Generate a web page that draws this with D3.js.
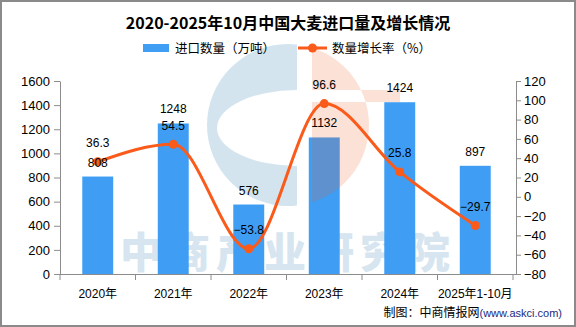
<!DOCTYPE html>
<html><head><meta charset="utf-8">
<script src="https://cdn.jsdelivr.net/npm/d3@7/dist/d3.min.js"></script>
<style>
html,body{margin:0;padding:0;background:#fff;}
svg{display:block;}
text{font-family:"Liberation Sans","Noto Sans CJK SC",sans-serif;}
</style></head>
<body>
<svg id="chart" width="576" height="327"></svg>
<script>
const title = "2020-2025年10月中国大麦进口量及增长情况";
const categories = ["2020年","2021年","2022年","2023年","2024年","2025年1-10月"];
const importVolume = [808,1248,576,1132,1424,897];
const growthRate = [36.3,54.5,-53.8,96.6,25.8,-29.7];
const leftTicks = [0,200,400,600,800,1000,1200,1400,1600];
const rightTicks = [-80,-60,-40,-20,0,20,40,60,80,100,120];
const legendLabels = ["进口数量（万吨）","数量增长率（%）"];
const watermarkText = "中商产业研究院";
const sourceText = "制图：中商情报网";
const sourceUrl = "(www.askci.com)";

const W = 576, H = 327;
const barColor = "#3f9ef4", lineColor = "#fa5a1a", axisColor = "#8c8c8c";
const CJK = '"Noto Sans CJK SC",sans-serif';

const svg = d3.select("#chart");
svg.append("rect").attr("x",1).attr("y",1).attr("width",W-2).attr("height",H-2)
  .attr("fill","#fff").attr("stroke","#8a8a8a").attr("stroke-width",2);

const plotL = 60, plotR = 513, plotT = 81, plotB = 274, rightAxisX = 516;
const x = d3.scaleBand().domain(categories).range([plotL, plotR]).paddingInner(0.59).paddingOuter(0.295);
const xb = d3.scaleBand().domain(categories).range([plotL, plotR]);
const yL = d3.scaleLinear().domain([0,1600]).range([plotB, plotT]);
const yR = d3.scaleLinear().domain([-80,120]).range([plotB, plotT]);

// watermark (behind)
const wm = svg.append("g");
const cx = 288, cy = 125, r = 81;
svg.append("defs").html(
  `<clipPath id="cl"><rect x="0" y="0" width="297" height="${H}"/></clipPath>
   <clipPath id="cr"><path d="M312,0H${W}V${H}H312Z"/></clipPath>`);
wm.append("path")
  .attr("d", `M${cx-r},${cy}a${r},${r} 0 1,0 ${2*r},0a${r},${r} 0 1,0 ${-2*r},0Z M217,128a80,38 0 1,0 160,0a80,38 0 1,0 -160,0Z`)
  .attr("fill-rule","evenodd").attr("fill","#d4e4ee").attr("clip-path","url(#cl)");
wm.append("text").attr("x",288).attr("y",268).attr("text-anchor","middle")
  .style("font-family",CJK).style("font-weight",900).style("font-size","42px")
  .attr("letter-spacing","6px").attr("fill","#d6e5ef").text(watermarkText);

// bars
svg.append("g").selectAll("rect").data(importVolume).join("rect")
  .attr("x",(d,i)=>x(categories[i])).attr("width",x.bandwidth())
  .attr("y",d=>yL(d)).attr("height",d=>yL(0)-yL(d)).attr("fill",barColor);

// orange watermark half (over bars)
svg.append("path")
  .attr("d", `M${cx-r},${cy}a${r},${r} 0 1,0 ${2*r},0a${r},${r} 0 1,0 ${-2*r},0Z M300,90H400V102H300Z`)
  .attr("fill-rule","evenodd").attr("fill","rgba(240,88,27,0.18)").attr("clip-path","url(#cr)");

// axes
const gx = svg.append("g").attr("transform",`translate(0,${plotB})`)
  .call(d3.axisBottom(xb).tickSize(0).tickSizeOuter(0).tickPadding(15));
gx.select(".domain").attr("stroke",axisColor).attr("d",`M${plotL},0.5H${rightAxisX}`);
gx.selectAll("text").style("font-size","12px").attr("fill","#000");
svg.append("g").selectAll("line").data(d3.range(categories.length+1)).join("line")
  .attr("x1",i=>plotL+i*xb.step()).attr("x2",i=>plotL+i*xb.step())
  .attr("y1",plotB).attr("y2",plotB+6).attr("stroke",axisColor);

const gl = svg.append("g").attr("transform",`translate(${plotL},0)`)
  .call(d3.axisLeft(yL).tickValues(leftTicks).tickSize(6).tickPadding(4).tickSizeOuter(0)
    .tickFormat(d=>String(d)));
gl.select(".domain").attr("stroke",axisColor);
gl.selectAll(".tick line").attr("stroke",axisColor);
gl.selectAll("text").style("font-size","13px").attr("fill","#000");

const gr = svg.append("g").attr("transform",`translate(${rightAxisX},0)`)
  .call(d3.axisRight(yR).tickValues(rightTicks).tickSize(5).tickPadding(3).tickSizeOuter(0)
    .tickFormat(d=>d<0?"−"+Math.abs(d):String(d)));
gr.select(".domain").attr("stroke",axisColor);
gr.selectAll(".tick line").attr("stroke",axisColor);
gr.selectAll("text").style("font-size","13px").attr("fill","#000");

// line
const cxp = i => xb(categories[i]) + xb.bandwidth()/2;
const line = d3.line().x((d,i)=>cxp(i)).y(d=>yR(d)).curve(d3.curveMonotoneX);
svg.append("path").datum(growthRate).attr("d",line).attr("fill","none")
  .attr("stroke",lineColor).attr("stroke-width",3);
svg.append("g").selectAll("circle").data(growthRate).join("circle")
  .attr("cx",(d,i)=>cxp(i)).attr("cy",d=>yR(d)).attr("r",4.5).attr("fill",lineColor);

// labels
svg.append("g").selectAll("text").data(importVolume).join("text")
  .attr("x",(d,i)=>cxp(i)).attr("y",d=>yL(d)-10).attr("text-anchor","middle")
  .style("font-size","12px").attr("fill","#000").text(d=>d);
svg.append("g").selectAll("text").data(growthRate).join("text")
  .attr("x",(d,i)=>cxp(i)).attr("y",d=>yR(d)-14.5).attr("text-anchor","middle")
  .style("font-size","12px").attr("fill","#000").text(d=>d<0?"−"+Math.abs(d):d);

// title
svg.append("text").attr("x",288).attr("y",28.5).attr("text-anchor","middle")
  .style("font-family",CJK).style("font-weight",700).style("font-size","16px").text(title);

// legend
svg.append("rect").attr("x",143).attr("y",44).attr("width",26).attr("height",8).attr("fill",barColor);
svg.append("text").attr("x",175).attr("y",52.5).style("font-family",CJK).style("font-size","12.5px").text(legendLabels[0]);
svg.append("line").attr("x1",298).attr("x2",327).attr("y1",48).attr("y2",48).attr("stroke",lineColor).attr("stroke-width",3);
svg.append("circle").attr("cx",312.5).attr("cy",48).attr("r",4.5).attr("fill",lineColor);
svg.append("text").attr("x",332).attr("y",52.5).style("font-family",CJK).style("font-size","12.5px").text(legendLabels[1]);

// source
const src = svg.append("text").attr("x",562).attr("y",317).attr("text-anchor","end");
src.append("tspan").style("font-family",CJK).style("font-size","12px").attr("fill","#000").text(sourceText);
src.append("tspan").style("font-size","11px").attr("fill","#1c2a80").text(sourceUrl);
</script>
</body></html>
